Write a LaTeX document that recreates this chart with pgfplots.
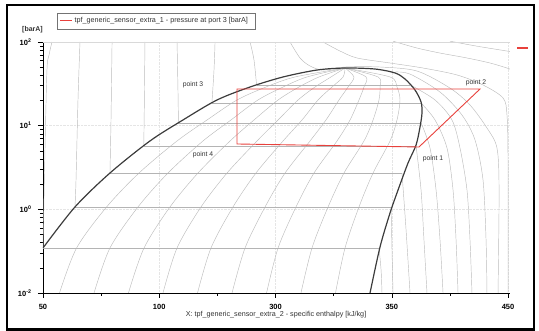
\documentclass[border=0pt]{standalone}
\usepackage{fontspec}
\setmainfont{Liberation Sans}
\usepackage{pgfplots}
\pgfplotsset{compat=1.18}
\definecolor{cyc}{HTML}{E8413C}
\definecolor{iso}{HTML}{BCBCBC}
\definecolor{isoh}{HTML}{B4B4B4}
\definecolor{dome}{HTML}{3C3C3C}
\tikzset{
  isoq/.style={draw=iso, line width=0.45pt, smooth, tension=0.5},
  isol/.style={draw=isoh, line width=0.55pt},
  isos/.style={draw=iso, line width=0.45pt, smooth, tension=0.5},
  lab/.style={font=\fontsize{6.8}{7}\selectfont, text=black!80},
}
\begin{document}
\begin{tikzpicture}[x=1pt,y=1pt]
\useasboundingbox (-43,-38) rectangle (496,293);
\draw[black, line width=2.2pt] (-36,-36.5) rectangle (491,288);
\begin{axis}[at={(0,0)}, anchor=south west, scale only axis, width=467pt, height=251pt,
  xmin=50, xmax=451.7, ymin=-1, ymax=2,
  axis x line*=bottom, axis y line*=left, axis line style={black, line width=0.6pt, -},
  xtick={50,150,250,350,450}, xticklabels={50,100,300,350,450}, minor xtick={100,200,300,400},
  ytick={-1,0,1,2}, yticklabels={10\textsuperscript{-2},10\textsuperscript{0},10\textsuperscript{1},10\textsuperscript{2}},
  minor ytick={-0.69897,-0.52288,-0.39794,-0.30103,-0.22185,-0.15490,-0.09691,-0.04576,
    0.30103,0.47712,0.60206,0.69897,0.77815,0.84510,0.90309,0.95424,
    1.30103,1.47712,1.60206,1.69897,1.77815,1.84510,1.90309,1.95424},
  tick align=outside, major tick length=5pt, minor tick length=3pt,
  tick style={black, line width=0.5pt},
  ticklabel style={font=\bfseries\fontsize{7.5}{8}\selectfont},
  xticklabel style={yshift=-2.5pt},
  yticklabel style={xshift=-3pt},
  grid=major, grid style={black!10, densely dotted},
  xlabel={X: tpf\_generic\_sensor\_extra\_2 - specific enthalpy [kJ/kg]},
  xlabel style={at={(axis description cs:0.499,-0.0876)}, anchor=center, font=\fontsize{7.2}{8}\selectfont, text=black!80},
]
% quality lines
\addplot[isoq] coordinates {(64.2,-1)(78.9,-0.462)(104.7,0.028)(132.6,0.434)(165.3,0.817)(191.1,1.068)(216.9,1.307)(241.8,1.462)(266.8,1.582)(309.8,1.689)};
\addplot[isoq] coordinates {(93.9,-1)(107.6,-0.462)(131.7,0.028)(157.5,0.434)(187.6,0.817)(211.7,1.068)(234.9,1.307)(256.5,1.462)(277.1,1.582)(309.8,1.689)};
\addplot[isoq] coordinates {(123.5,-1)(136.9,-0.462)(159.2,0.028)(183.3,0.434)(210.9,0.817)(231.5,1.068)(252.2,1.307)(270.2,1.462)(287.4,1.582)(309.8,1.689)};
\addplot[isoq] coordinates {(153.2,-1)(165.3,-0.462)(185.9,0.028)(208.3,0.434)(234.1,0.817)(252.2,1.068)(269.4,1.307)(284.0,1.462)(297.7,1.582)(309.8,1.689)};
\addplot[isoq] coordinates {(182.9,-1)(194.5,-0.462)(213.4,0.028)(233.2,0.434)(256.5,0.817)(272.8,1.068)(286.6,1.307)(298.6,1.462)(308.1,1.582)(309.8,1.689)};
\addplot[isoq] coordinates {(212.6,-1)(223.8,-0.462)(241.0,0.028)(258.2,0.434)(279.7,0.817)(293.4,1.068)(304.6,1.307)(312.4,1.462)(317.5,1.582)(309.8,1.689)};
\addplot[isoq] coordinates {(242.3,-1)(252.2,-0.462)(267.6,0.028)(283.1,0.434)(302.9,0.817)(314.1,1.068)(321.8,1.307)(326.1,1.462)(327.9,1.582)(309.8,1.689)};
\addplot[isoq] coordinates {(271.9,-1)(281.4,-0.462)(295.2,0.028)(308.9,0.434)(326.1,0.817)(333.9,1.068)(339.0,1.307)(339.9,1.462)(338.2,1.582)(309.8,1.689)};
\addplot[isoq] coordinates {(301.6,-1)(309.8,-0.462)(321.8,0.028)(333.9,0.434)(348.5,0.817)(354.5,1.068)(357.1,1.307)(354.5,1.462)(348.5,1.582)(309.8,1.689)};
% isotherms: liquid part, two-phase part, vapour part
\addplot[isos] coordinates {(57.7,2.0)(55.2,1.845)(53.4,1.665)(51.7,0.709)(50.0,-0.462)};
\addplot[isol] coordinates {(50.0,-0.462)(339.0,-0.462)};
\addplot[isos] coordinates {(339.0,-0.462)(340.8,-0.725)(341.6,-1.0)};
\addplot[isos] coordinates {(81.8,2.0)(80.1,1.307)(78.4,0.351)(77.5,0.028)};
\addplot[isol] coordinates {(77.5,0.028)(349.4,0.028)};
\addplot[isos] coordinates {(349.4,0.028)(350.2,-0.486)(351.1,-1.0)};
\addplot[isos] coordinates {(109.4,2.0)(108.5,1.068)(107.6,0.434)};
\addplot[isol] coordinates {(107.6,0.434)(358.8,0.434)};
\addplot[isos] coordinates {(358.8,0.434)(362.3,-0.247)(365.7,-1.0)};
\addplot[isos] coordinates {(137.7,2.0)(137.2,1.307)(136.7,0.757)};
\addplot[isol] coordinates {(136.7,0.757)(370.9,0.757)};
\addplot[isos] coordinates {(370.9,0.757)(375.2,0.231)(377.7,-0.366)(380.3,-1.0)};
\addplot[isos] coordinates {(165.3,2.0)(166.1,1.426)(166.5,1.032)};
\addplot[isol] coordinates {(166.5,1.032)(375.2,1.032)};
\addplot[isos] coordinates {(375.2,1.032)(382.9,0.733)(388.1,0.231)(391.5,-0.366)(394.1,-1.0)};
\addplot[isos] coordinates {(198.0,2.0)(197.1,1.665)(195.3,1.271)};
\addplot[isol] coordinates {(195.3,1.271)(375.2,1.271)};
\addplot[isos] coordinates {(375.2,1.271)(387.2,1.068)(397.5,0.733)(402.7,0.231)(405.3,-0.366)(407.0,-1.0)};
\addplot[isos] coordinates {(228.1,2.0)(231.5,1.785)(233.7,1.486)};
\addplot[isol] coordinates {(233.7,1.486)(366.1,1.486)};
\addplot[isos] coordinates {(366.1,1.486)(387.2,1.307)(401.8,1.068)(408.7,0.733)(414.7,0.231)(417.3,-0.366)(419.0,-1.0)};
% supercritical / superheated isotherms
\addplot[isos] coordinates {(352.8,1.641)(365.7,1.617)(391.5,1.402)(410.4,1.127)(421.6,0.829)(428.5,0.351)(431.1,-0.366)(431.9,-1.0)};
\addplot[isos] coordinates {(262.5,2.0)(271.1,1.809)(279.7,1.713)(290.9,1.665)(309.8,1.701)(339.9,1.701)(371.7,1.653)(400.1,1.449)(417.3,1.247)(431.9,0.972)(440.5,0.733)(442.3,0.231)(441.4,-1.0)};
\addplot[isos] coordinates {(290.9,2.0)(305.5,1.892)(320.1,1.809)(348.5,1.749)(376.9,1.689)(406.1,1.606)(428.5,1.486)(445.7,1.331)(449.1,1.128)(450.0,0.590)(450.0,-1.0)};
\addplot[isos] coordinates {(351.1,2.01)(371.7,1.928)(391.5,1.868)(414.7,1.809)(434.5,1.749)(449.1,1.689)(453.4,1.665)};
\addplot[isos] coordinates {(400.1,2.01)(423.3,1.95)(449.1,1.892)(453.4,1.88)};
% saturation dome
\addplot[draw=dome, line width=1.2pt, smooth, tension=0.5] coordinates {
 (50.0,-0.462)(77.5,0.028)(107.6,0.434)(142.0,0.817)(170.4,1.068)(199.7,1.307)(228.1,1.462)(256.5,1.582)
 (285.7,1.665)(309.8,1.689)(335.6,1.677)(352.8,1.630)(361.4,1.558)(370.0,1.426)(375.2,1.283)(376.0,1.151)
 (374.3,0.984)(370.9,0.769)(364.0,0.554)(355.4,0.231)(348.5,-0.044)(339.9,-0.450)(331.3,-1.0)};
% cycle: pressure at port 3
\addplot[draw=cyc, line width=0.9pt] coordinates {(373.4,0.745)(425.9,1.438)(216.9,1.438)(216.9,0.781)(373.4,0.745)};
\node[lab] at (axis cs:179.0,1.486) {point 3};
\node[lab] at (axis cs:187.6,0.649) {point 4};
\node[lab] at (axis cs:385.5,0.602) {point 1};
\node[lab] at (axis cs:422.5,1.510) {point 2};
\draw[black!15, line width=0.6pt] (rel axis cs:0,1) -- (rel axis cs:1,1) -- (rel axis cs:1,0);
\end{axis}
% legend
\draw[black!55, fill=white, line width=0.5pt] (14,264) rectangle (212,280);
\draw[draw=cyc, line width=1pt] (17,272) -- (29,272);
\node[anchor=west, inner sep=0pt, font=\fontsize{7.2}{8}\selectfont, text=black!80] at (31.5,272) {tpf\_generic\_sensor\_extra\_1 - pressure at port 3 [barA]};
\node[font=\bfseries\fontsize{7}{8}\selectfont, text=black!80] at (-10.5,263) {[barA]};
\draw[draw=cyc, line width=1.2pt] (474,245) -- (485,245);
\end{tikzpicture}
\end{document}
